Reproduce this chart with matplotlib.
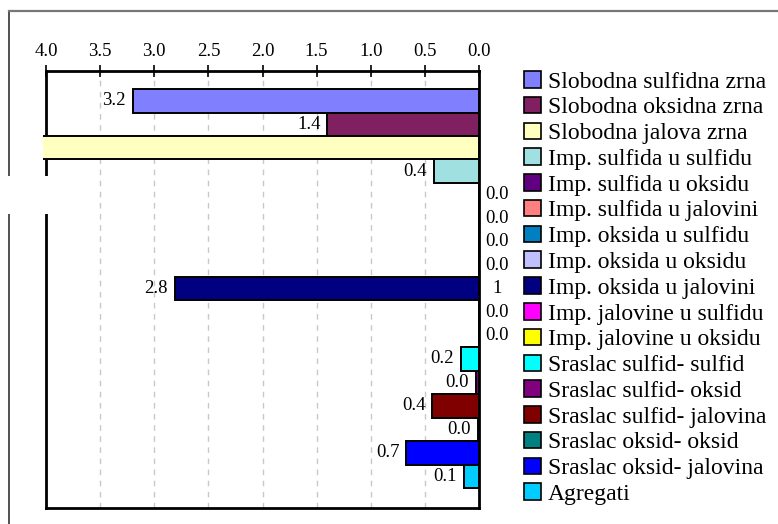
import numpy as np
import matplotlib
matplotlib.use("Agg")
import matplotlib.pyplot as plt
from matplotlib.patches import Patch, Rectangle
from matplotlib.lines import Line2D

plt.rcParams['font.family'] = ['Liberation Serif', 'DejaVu Serif']

# Particle classes and their shares (%)
categories = [
    "Slobodna sulfidna zrna",
    "Slobodna oksidna zrna",
    "Slobodna jalova zrna",
    "Imp. sulfida u sulfidu",
    "Imp. sulfida u oksidu",
    "Imp. sulfida u jalovini",
    "Imp. oksida u sulfidu",
    "Imp. oksida u oksidu",
    "Imp. oksida u jalovini",
    "Imp. jalovine u sulfidu",
    "Imp. jalovine u oksidu",
    "Sraslac sulfid- sulfid",
    "Sraslac sulfid- oksid",
    "Sraslac sulfid- jalovina",
    "Sraslac oksid- oksid",
    "Sraslac oksid- jalovina",
    "Agregati",
]
values = [3.2, 1.4, 90.8, 0.42, 0.0, 0.0, 0.0, 0.0, 2.81, 0.0, 0.0,
          0.17, 0.03, 0.43, 0.01, 0.67, 0.14]
colors = [
    "#8080FF", "#802060", "#FFFFC0", "#A0E0E0", "#600080", "#FF8080",
    "#0080C0", "#C0C0FF", "#000080", "#FF00FF", "#FFFF00", "#00FFFF",
    "#800080", "#800000", "#008080", "#0000FF", "#00CCFF",
]
x_ticks = [0.0, 0.5, 1.0, 1.5, 2.0, 2.5, 3.0, 3.5, 4.0]
extra_labels = {"Imp. oksida u jalovini": "1"}

W, H = 778, 524
fig = plt.figure(figsize=(W / 100, H / 100), dpi=100)
ax = fig.add_axes([46 / W, 1 - 508 / H, (479 - 46) / W, (508 - 71) / H])

y = np.arange(len(categories))
bars = ax.barh(y, values, height=1.0, color=colors, edgecolor="black",
               linewidth=1.4, zorder=3)

# let bars run a little past the left frame
clip = Rectangle((-3 / 433, 0), 1 + 3 / 433, 1, transform=ax.transAxes)
for b in bars:
    b.set_clip_path(clip)

ax.set_xlim(4.0, 0.0)
ax.set_ylim(17.35, -1.27)
ax.set_xticks(x_ticks)
ax.set_xticklabels([f"{t:.1f}" for t in x_ticks])
ax.set_yticks([])
ax.xaxis.tick_top()
ax.tick_params(axis="x", direction="inout", length=8, width=1.2,
               pad=4.0, labelsize=13.5, colors="black")
ax.set_axisbelow(True)
ax.xaxis.grid(True, color="#c8c8c8", linestyle=(0, (4, 4)), linewidth=1)
for s in ax.spines.values():
    s.set_linewidth(2)
    s.set_color("black")

# value labels
for i, (cat, v) in enumerate(zip(categories, values)):
    if v > 0:
        ax.annotate(f"{v:.1f}", xy=(v, i), xytext=(-7, 0),
                    textcoords="offset pixels", ha="right", va="center",
                    fontsize=13.5, annotation_clip=True)
    else:
        ax.annotate(f"{v:.1f}", xy=(0, i), xytext=(18, 0),
                    textcoords="offset pixels", ha="center", va="center",
                    fontsize=13.5, annotation_clip=False)
    if cat in extra_labels:
        ax.annotate(extra_labels[cat], xy=(0, i), xytext=(18, 0),
                    textcoords="offset pixels", ha="center", va="center",
                    fontsize=13.5, annotation_clip=False)

handles = [Patch(facecolor=c, edgecolor="black", linewidth=1.2) for c in colors]
fig.legend(handles, categories, loc="upper left",
           bbox_to_anchor=(524 / W, 1 - 71 / H), frameon=False,
           fontsize=17, handlelength=0.7, handleheight=0.7,
           handletextpad=0.3, labelspacing=0.18, borderpad=0,
           borderaxespad=0)

# outer frame
fig.add_artist(Line2D([9 / W, 9 / W], [0, 1 - 11 / H],
                      transform=fig.transFigure, color="#333333", lw=1.2))
fig.add_artist(Line2D([9 / W, 1], [1 - 11 / H, 1 - 11 / H],
                      transform=fig.transFigure, color="#777777", lw=1.6))
fig.add_artist(Rectangle((0, 1 - 214 / H), 50 / W, 38 / H,
                         transform=fig.transFigure, facecolor="white",
                         edgecolor="none", zorder=10))

fig.savefig("out.png", dpi=100)
